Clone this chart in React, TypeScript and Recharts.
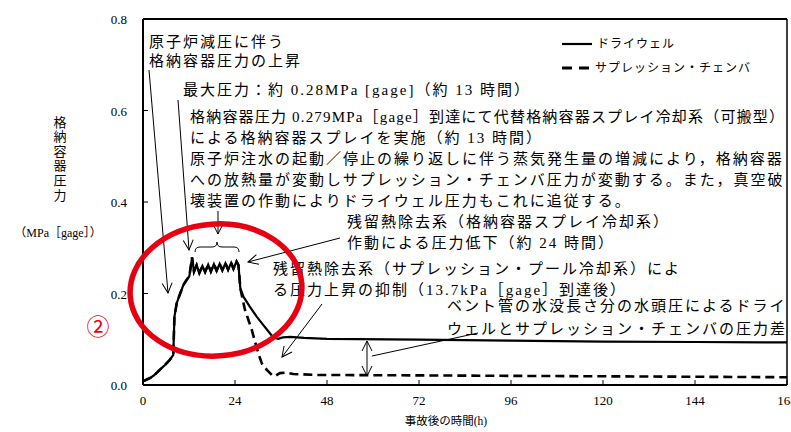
import React from 'react';
import { LineChart, Line, XAxis, YAxis, ReferenceLine, Legend } from 'recharts';

// ---- data ----
const seriesNames = ['ドライウェル', 'サプレッション・チェンバ'];

const dwTime = [0, 1, 2, 3, 4, 5, 6, 7, 7.9, 8.2, 8.8, 9.7, 10.5, 11.4, 12.1, 12.8, 13.3, 14.0, 14.7, 15.5, 16.2, 17.0, 17.7, 18.5, 19.2, 20.0, 20.7, 21.5, 22.2, 23.0, 23.6, 24.4, 24.9, 25.4, 26.2, 27.9, 29.7, 31.4, 33.1, 34.0, 35.3, 36.5, 38.4, 42, 48, 72, 96, 120, 144, 168];
const dwValues = [0.008, 0.012, 0.016, 0.022, 0.03, 0.038, 0.046, 0.055, 0.066, 0.149, 0.179, 0.2, 0.218, 0.23, 0.238, 0.279, 0.248, 0.262, 0.245, 0.26, 0.247, 0.263, 0.248, 0.264, 0.25, 0.265, 0.251, 0.266, 0.252, 0.267, 0.254, 0.27, 0.262, 0.211, 0.193, 0.171, 0.149, 0.131, 0.113, 0.104, 0.101, 0.104, 0.105, 0.103, 0.101, 0.099, 0.097, 0.095, 0.094, 0.093];

const scTime = [0, 1, 2, 3, 4, 5, 6, 7, 7.9, 8.2, 8.8, 9.7, 10.5, 11.4, 12.1, 12.8, 13.3, 14.0, 14.7, 15.5, 16.2, 17.0, 17.7, 18.5, 19.2, 20.0, 20.7, 21.5, 22.2, 23.0, 23.6, 24.4, 24.9, 25.4, 26.6, 27.5, 28.4, 29.2, 30.1, 31.0, 32.3, 33.6, 34.4, 35.7, 37.5, 39.2, 45.3, 72, 96, 120, 144, 168];
const scValues = [0.008, 0.012, 0.016, 0.022, 0.03, 0.038, 0.046, 0.055, 0.066, 0.149, 0.179, 0.2, 0.218, 0.23, 0.238, 0.279, 0.248, 0.262, 0.245, 0.26, 0.247, 0.263, 0.248, 0.264, 0.25, 0.265, 0.251, 0.266, 0.252, 0.267, 0.254, 0.27, 0.262, 0.211, 0.164, 0.142, 0.12, 0.095, 0.069, 0.047, 0.033, 0.022, 0.019, 0.026, 0.027, 0.024, 0.022, 0.021, 0.02, 0.019, 0.018, 0.017];

const xTicks = [0, 24, 48, 72, 96, 120, 144, 168];
const yTicks = [0, 0.2, 0.4, 0.6, 0.8];

const yLabelChars = ['格', '納', '容', '器', '圧', '力'];
const yUnitLabel = '（MPa［gage］）';
const xTitle = '事故後の時間(h)';

const noteLines = [
  { text: '原子炉減圧に伴う', x: 149, y: 42 },
  { text: '格納容器圧力の上昇', x: 149, y: 61 },
  { text: '最大圧力：約 0.28MPa [gage]（約 13 時間）', x: 183, y: 90 },
  { text: '格納容器圧力 0.279MPa［gage］到達にて代替格納容器スプレイ冷却系（可搬型）', x: 190, y: 117, w: 594 },
  { text: 'による格納容器スプレイを実施（約 13 時間）', x: 190, y: 138 },
  { text: '原子炉注水の起動／停止の繰り返しに伴う蒸気発生量の増減により，格納容器', x: 190, y: 159 },
  { text: 'への放熱量が変動しサプレッション・チェンバ圧力が変動する。また，真空破', x: 190, y: 180 },
  { text: '壊装置の作動によりドライウェル圧力もこれに追従する。', x: 190, y: 201 },
  { text: '残留熱除去系（格納容器スプレイ冷却系）', x: 347, y: 222 },
  { text: '作動による圧力低下（約 24 時間）', x: 347, y: 243 },
  { text: '残留熱除去系（サプレッション・プール冷却系）によ', x: 273, y: 269 },
  { text: 'る圧力上昇の抑制（13.7kPa［gage］到達後）', x: 273, y: 290 },
  { text: 'ベント管の水没長さ分の水頭圧によるドライ', x: 447, y: 306 },
  { text: 'ウェルとサプレッション・チェンバの圧力差', x: 447, y: 329 },
];

const dwData = dwTime.map((t, i) => ({ t, v: dwValues[i] }));
const scData = scTime.map((t, i) => ({ t, v: scValues[i] }));

const serif = "'Liberation Serif', 'Noto Sans CJK JP', serif";
const jp = "'Liberation Serif', 'Noto Sans CJK JP', sans-serif";

const XTick = (props: any) => {
  const { x, y, payload } = props;
  return (
    <g>
      {payload.value !== 0 && <line x1={x} x2={x} y1={y} y2={y - 5} stroke="#000" strokeWidth={1} />}
      <text x={x} y={y + 20} textAnchor="middle" fontFamily={serif} fontSize={13} fill="#000">
        {payload.value}
      </text>
    </g>
  );
};

const YTick = (props: any) => {
  const { x, y, payload } = props;
  return (
    <g>
      {payload.value !== 0 && <line x1={x} x2={x + 5} y1={y} y2={y} stroke="#000" strokeWidth={1} />}
      <text x={x - 16} y={y + 5} textAnchor="end" fontFamily={serif} fontSize={13} fill="#000">
        {Number(payload.value).toFixed(1)}
      </text>
    </g>
  );
};

const renderLegend = () => (
  <svg width={230} height={50} style={{ display: 'block' }}>
    <line x1={7} x2={37} y1={12} y2={12} stroke="#000" strokeWidth={2.2} />
    <text x={42} y={12} dominantBaseline="central" fontFamily={jp} fontSize={12} letterSpacing={1} fill="#000">
      {seriesNames[0]}
    </text>
    <line x1={7} x2={17} y1={36} y2={36} stroke="#000" strokeWidth={3} />
    <line x1={24} x2={34} y1={36} y2={36} stroke="#000" strokeWidth={3} />
    <text x={40} y={36} dominantBaseline="central" fontFamily={jp} fontSize={12} letterSpacing={1} fill="#000">
      {seriesNames[1]}
    </text>
  </svg>
);

export default function App() {
  return (
    <div style={{ position: 'absolute', left: 0, top: 0, width: 791, height: 432, overflow: 'hidden', background: '#fff' }}>
      <LineChart width={840} height={432} margin={{ top: 19, right: 53, bottom: 17, left: 103 }}>
        <XAxis
          type="number"
          dataKey="t"
          domain={[0, 168]}
          ticks={xTicks}
          allowDataOverflow
          height={30}
          tickSize={0}
          tickMargin={0}
          tickLine={false}
          axisLine={{ stroke: '#000', strokeWidth: 2 }}
          tick={<XTick />}
        />
        <YAxis
          type="number"
          dataKey="v"
          domain={[0, 0.8]}
          ticks={yTicks}
          allowDataOverflow
          width={40}
          tickSize={0}
          tickMargin={0}
          tickLine={false}
          axisLine={{ stroke: '#000', strokeWidth: 2 }}
          tick={<YTick />}
        />
        <ReferenceLine y={0.8} stroke="#000" strokeWidth={2} ifOverflow="visible" />
        <ReferenceLine x={168} stroke="#000" strokeWidth={1.5} ifOverflow="visible" />
        <Line
          data={dwData}
          dataKey="v"
          name={seriesNames[0]}
          type="linear"
          stroke="#000"
          strokeWidth={2.2}
          dot={false}
          isAnimationActive={false}
        />
        <Line
          data={scData}
          dataKey="v"
          name={seriesNames[1]}
          type="linear"
          stroke="#000"
          strokeWidth={2.6}
          strokeDasharray="9 5"
          dot={false}
          isAnimationActive={false}
        />
        <Legend
          layout="vertical"
          align="center"
          verticalAlign="middle"
          content={renderLegend}
          wrapperStyle={{ position: 'absolute', left: 555, top: 32, width: 230, height: 50 }}
        />
      </LineChart>
      <svg
        width={791}
        height={432}
        style={{ position: 'absolute', left: 0, top: 0, pointerEvents: 'none' }}
      >
        <defs>
          <marker id="ah" viewBox="0 0 12 12" refX={11} refY={6} markerWidth={12} markerHeight={12} orient="auto-start-reverse" markerUnits="userSpaceOnUse">
            <path d="M1,1 L11,6 L1,11" fill="none" stroke="#000" strokeWidth={1} />
          </marker>
        </defs>
        {yLabelChars.map((c, i) => (
          <text key={i} x={60} y={122 + i * 14.6} textAnchor="middle" dominantBaseline="central" fontFamily={jp} fontSize={13} fill="#000">
            {c}
          </text>
        ))}
        <text x={58} y={233} textAnchor="middle" dominantBaseline="central" fontFamily={jp} fontSize={12} fill="#000">
          {yUnitLabel}
        </text>
        <text x={446} y={421} textAnchor="middle" dominantBaseline="central" fontFamily={jp} fontSize={11.5} fill="#000">
          {xTitle}
        </text>
        {noteLines.map((l: any, i) =>
          l.w ? (
            <text key={i} x={l.x} y={l.y} dominantBaseline="central" fontFamily={jp} fontSize={15} textLength={l.w} lengthAdjust="spacing" fill="#000">
              {l.text}
            </text>
          ) : (
            <text key={i} x={l.x} y={l.y} dominantBaseline="central" fontFamily={jp} fontSize={15} letterSpacing={2} fill="#000">
              {l.text}
            </text>
          )
        )}
        <g stroke="#000" strokeWidth={1} fill="none">
          <line x1={149} y1={70} x2={168} y2={293} markerEnd="url(#ah)" />
          <line x1={178} y1={100} x2={189} y2={250} markerEnd="url(#ah)" />
          <line x1={218} y1={211} x2={218} y2={234} markerEnd="url(#ah)" />
          <line x1={340} y1={238} x2={248} y2={262} markerEnd="url(#ah)" />
          <line x1={322} y1={304} x2={282} y2={357} markerEnd="url(#ah)" />
          <line x1={478} y1={333} x2={372} y2={356} />
          <line x1={367} y1={341} x2={367} y2={376} markerStart="url(#ah)" markerEnd="url(#ah)" />
          <path d="M195,252 Q195,247 200,247 L212,247 Q217,247 217,242 Q217,247 222,247 L234,247 Q239,247 239,252" />
        </g>
        <ellipse cx={216} cy={290} rx={86} ry={66} transform="rotate(-4 216 290)" fill="none" stroke="#e60012" strokeWidth={5.5} />
        <text x={98} y={327} textAnchor="middle" dominantBaseline="central" fontFamily={jp} fontSize={23} fill="#e60012">
          ②
        </text>
      </svg>
    </div>
  );
}
